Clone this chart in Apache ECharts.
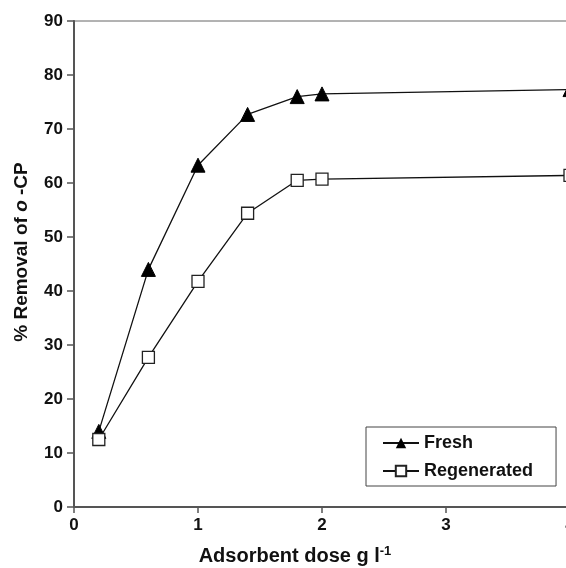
<!DOCTYPE html>
<html>
<head>
<meta charset="utf-8">
<script src="https://cdn.jsdelivr.net/npm/echarts@6/dist/echarts.min.js"></script>
<style>
  html, body { margin: 0; padding: 0; background: #fff; }
  #chart { width: 566px; height: 568px; }
</style>
</head>
<body>
<div id="chart"></div>
<script>
// dose (g/l) and % removal
const dose = [0.2, 0.6, 1.0, 1.4, 1.8, 2.0, 4.0];
const fresh = [14, 44, 63.3, 72.7, 76, 76.5, 77.3];
const regenerated = [12.5, 27.7, 41.8, 54.4, 60.5, 60.7, 61.4];

const font = "Liberation Sans, Arial, sans-serif";

const chart = echarts.init(document.getElementById("chart"));

const pair = (ys) => dose.map((x, i) => [x, ys[i]]);

chart.setOption({
  animation: false,
  backgroundColor: "#fff",
  grid: {
    left: 74, width: 496, top: 21, height: 486,
    outerBoundsMode: "none",
    containLabel: false,
    show: true, borderColor: "#666", borderWidth: 1
  },
  legend: {
    orient: "vertical",
    left: 366, top: 427,
    padding: [7, 23, 6, 16],
    itemGap: 10,
    itemWidth: 36, itemHeight: 13,
    borderColor: "#444", borderWidth: 1,
    backgroundColor: "#fff",
    textStyle: { fontFamily: font, fontWeight: "bold", fontSize: 18, color: "#111" },
    data: ["Fresh", "Regenerated"]
  },
  xAxis: {
    type: "value",
    min: 0, max: 4, interval: 1,
    name: "Adsorbent dose g l{sup|-1}",
    nameLocation: "middle",
    nameGap: 38,
    nameTextStyle: {
      fontFamily: font, fontWeight: "bold", fontSize: 20, color: "#111",
      padding: [0, 54, 0, 0],
      rich: { sup: { fontFamily: font, fontWeight: "bold", fontSize: 13, verticalAlign: "top", padding: [0, 0, 10, 0], color: "#111" } }
    },
    axisLine: { lineStyle: { color: "#555", width: 2 } },
    axisTick: { show: true, length: 6, lineStyle: { color: "#555", width: 1.5 } },
    axisLabel: { fontFamily: font, fontWeight: "bold", fontSize: 17, color: "#111", margin: 10 },
    splitLine: { show: false }
  },
  yAxis: {
    type: "value",
    min: 0, max: 90, interval: 10,
    name: "% Removal of {i|o} -CP",
    nameLocation: "middle",
    nameGap: 43,
    nameTextStyle: {
      fontFamily: font, fontWeight: "bold", fontSize: 19, color: "#111",
      padding: [0, 0, 0, 24],
      rich: { i: { fontFamily: font, fontWeight: "bold", fontStyle: "italic", fontSize: 19, color: "#111" } }
    },
    axisLine: { show: true, lineStyle: { color: "#555", width: 2 } },
    axisTick: { show: true, length: 7, lineStyle: { color: "#555", width: 1.5 } },
    axisLabel: { fontFamily: font, fontWeight: "bold", fontSize: 17, color: "#111", margin: 11 },
    splitLine: { show: false }
  },
  series: [
    {
      name: "Fresh",
      type: "line",
      data: pair(fresh),
      symbol: "triangle",
      symbolSize: 14,
      lineStyle: { color: "#111", width: 1.3 },
      itemStyle: { color: "#000", borderColor: "#000" }
    },
    {
      name: "Regenerated",
      type: "line",
      data: pair(regenerated),
      symbol: "rect",
      symbolSize: 12,
      lineStyle: { color: "#111", width: 1.3 },
      itemStyle: { color: "#fff", borderColor: "#222", borderWidth: 1.3 }
    }
  ]
});
</script>
</body>
</html>
